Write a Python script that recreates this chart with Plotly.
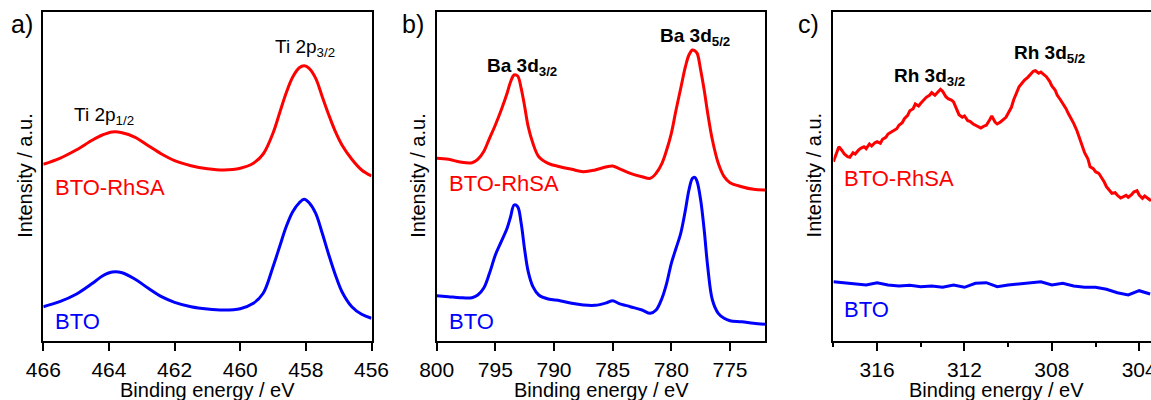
import plotly.graph_objects as go

W, H = 1151, 400

# ---------------- data (intensity in a.u.) ----------------
ti_energy = [466, 465.5, 465, 464.5, 464.2, 463.9, 463.6, 463.2, 462.8, 462.4, 462, 461.5, 461,
             460.5, 460, 459.6, 459.3, 459.0, 458.8, 458.6, 458.4, 458.2, 458.05, 457.9, 457.7,
             457.5, 457.3, 457.1, 456.9, 456.6, 456.3, 456]
ti_rhsa = [176.4, 182.4, 190.7, 200.7, 205.7, 208.7, 208.0, 203.4, 195.0, 186.7, 180.0, 175.0, 172.0,
           170.7, 172.4, 177.4, 186.7, 207.7, 227.7, 247.7, 263.7, 273.0, 275.0, 272.4, 262.4,
           244.0, 225.7, 209.0, 195.7, 181.4, 170.7, 164.7]
ti_bto = [34.0, 39.0, 46.4, 57.4, 64.7, 68.7, 68.0, 61.4, 52.4, 44.0, 38.4, 34.0, 31.7,
          30.7, 32.0, 37.4, 47.4, 74.0, 94.0, 114.0, 129.0, 138.0, 141.5, 138.0, 127.4,
          107.4, 85.7, 65.7, 49.0, 34.0, 26.4, 22.4]

ba_energy = [800, 799, 798, 797, 796.5, 796, 795.5, 795, 794.5, 794, 793.7, 793.4, 793.1, 792.8,
             792.5, 792.2, 791.8, 791.3, 790.5, 789.5, 788.5, 787.5, 786.5, 785.5, 785, 784.5,
             783.5, 782.5, 781.8, 781.3, 780.8, 780.4, 780, 779.6, 779.2, 778.8, 778.5, 778.2,
             778, 777.8, 777.5, 777.2, 776.9, 776.5, 776, 775.5, 775, 774, 773, 772]
ba_rhsa = [182.4, 181.4, 178.7, 178.0, 181.4, 189.0, 202.4, 215.7, 230.7, 247.4, 259.0, 265.7, 264.7,
           252.4, 234.0, 214.0, 197.4, 184.0, 177.4, 174.0, 171.4, 169.0, 170.7, 174.0, 174.7, 172.4,
           167.4, 164.0, 162.4, 167.4, 177.4, 190.7, 207.4, 230.7, 252.4, 274.0, 285.7, 290.7,
           290.0, 287.4, 270.7, 250.7, 227.4, 200.7, 177.4, 164.0, 158.0, 154.0, 151.4, 150.7]
ba_bto = [45.0, 44.0, 43.0, 43.0, 45.7, 52.4, 67.4, 85.7, 99.0, 112.4, 124.0, 135.7, 134.0, 117.4,
          90.7, 69.0, 54.0, 45.7, 41.7, 40.0, 37.4, 35.7, 35.4, 38.0, 40.0, 37.4,
          34.0, 30.7, 27.4, 30.7, 42.4, 57.4, 77.4, 92.4, 107.4, 130.7, 150.7, 162.4,
          163.4, 159.0, 140.7, 110.7, 74.0, 40.7, 27.4, 22.4, 20.0, 19.0, 17.4, 16.4]

rh_energy_rhsa = [318.0, 317.85, 317.75, 317.6, 317.5, 317.35, 317.25, 317.1, 317.0, 316.85, 316.75,
                  316.6, 316.5, 316.35, 316.25, 316.1, 316.0, 315.85, 315.75, 315.6, 315.5,
                  315.35, 315.25, 315.1, 315.0, 314.85, 314.75, 314.6, 314.5, 314.35, 314.25,
                  314.1, 314.0, 313.85, 313.75, 313.6, 313.5, 313.35, 313.25, 313.1, 313.0,
                  312.85, 312.75, 312.6, 312.5, 312.35, 312.25, 312.1, 312.0, 311.85, 311.75,
                  311.6, 311.5, 311.35, 311.25, 311.1, 311.0, 310.85, 310.75, 310.6, 310.5,
                  310.35, 310.25, 310.1, 310.0, 309.85, 309.75, 309.6, 309.5, 309.35, 309.25,
                  309.1, 309.0, 308.85, 308.75, 308.6, 308.5, 308.35, 308.25, 308.1, 308.0,
                  307.85, 307.75, 307.6, 307.5, 307.35, 307.25, 307.1, 307.0, 306.85, 306.75,
                  306.6, 306.5, 306.35, 306.25, 306.1, 306.0, 305.85, 305.75, 305.6, 305.5,
                  305.35, 305.25, 305.1, 305.0, 304.85, 304.75, 304.6, 304.5, 304.35, 304.25,
                  304.1, 304.0, 303.85, 303.75, 303.6, 303.46]
rh_rhsa_px = [485, 455, 440, 452, 462, 470, 472, 458, 462, 450, 445, 440, 446, 432, 438, 428, 425,
              430, 418, 412, 402, 396, 392, 386, 376, 368, 356, 346, 332, 326, 312, 318, 310,
              300, 292, 286, 278, 286, 280, 268, 274, 290, 296, 300, 306, 330, 344, 352, 348,
              362, 364, 372, 376, 380, 384, 378, 376, 360, 348, 366, 372, 366, 360, 352, 340,
              322, 300, 276, 260, 248, 240, 232, 226, 214, 212, 220, 216, 224, 230, 244, 258,
              270, 286, 300, 310, 326, 340, 356, 370, 392, 410, 434, 458, 476, 500, 506, 515,
              520, 530, 546, 560, 572, 580, 578, 586, 594, 590, 586, 592, 584, 576, 572, 585,
              595, 588, 596, 602]
rh_rhsa = [round(340.7 - p / 3, 1) for p in rh_rhsa_px]

rh_energy_bto = [318, 317.5, 317, 316.5, 316, 315.5, 315, 314.5, 314, 313.5, 313, 312.5, 312, 311.5,
                 311, 310.5, 310, 309.5, 309, 308.5, 308, 307.5, 307, 306.5, 306, 305.5, 305,
                 304.5, 304, 303.5]
rh_bto_px = [245, 248, 250, 255, 248, 255, 258, 256, 260, 258, 262, 255, 262, 250, 248, 260, 255,
             252, 248, 245, 255, 250, 258, 262, 262, 268, 278, 285, 272, 282]
rh_bto = [round(140.7 - p / 3, 1) for p in rh_bto_px]

RED = "#ff0000"
BLUE = "#0000ff"
FONT = "Liberation Sans, Arial, sans-serif"


def px(x):
    return x / W


def py(y):
    return 1 - y / H


fig = go.Figure()

panels = [
    ("x", "y", ti_energy, ti_rhsa, ti_energy, ti_bto, "spline"),
    ("x2", "y2", ba_energy, ba_rhsa, ba_energy, ba_bto, "spline"),
    ("x3", "y3", rh_energy_rhsa, rh_rhsa, rh_energy_bto, rh_bto, "linear"),
]
for xa, ya, xr, yr, xb, yb, shp in panels:
    fig.add_trace(go.Scatter(x=xr, y=yr, xaxis=xa, yaxis=ya, mode="lines",
                             line=dict(color=RED, width=3, shape=shp),
                             showlegend=False))
    fig.add_trace(go.Scatter(x=xb, y=yb, xaxis=xa, yaxis=ya, mode="lines",
                             line=dict(color=BLUE, width=3, shape=shp),
                             showlegend=False))

y_dom = [py(340.7), py(11.7)]
common_x = dict(showline=True, linecolor="black", linewidth=1.5, mirror=True,
                ticks="outside", ticklen=9, tickwidth=1.5, tickcolor="black",
                showgrid=False, zeroline=False, automargin=False,
                ticklabeloverflow="allow",
                tickfont=dict(family=FONT, size=21, color="black"))
common_y = dict(showline=True, linecolor="black", linewidth=1.5, automargin=False,
                showticklabels=False, ticks="", showgrid=False, zeroline=False,
                range=[0, 329])

fig.update_layout(
    template="none",
    width=W, height=H, autosize=False,
    margin=dict(l=0, r=0, t=0, b=0, pad=0, autoexpand=False),
    plot_bgcolor="white", paper_bgcolor="white",
    xaxis=dict(common_x, domain=[px(43.3), px(371.5)], range=[466, 456],
               tickmode="array", tickvals=[466, 464, 462, 460, 458, 456], anchor="y"),
    yaxis=dict(common_y, domain=y_dom, mirror=True, anchor="x"),
    xaxis2=dict(common_x, domain=[px(436.7), px(765.2)], range=[800, 772],
                tickmode="array", tickvals=[800, 795, 790, 785, 780, 775], anchor="y2"),
    yaxis2=dict(common_y, domain=y_dom, mirror=True, anchor="x2"),
    xaxis3=dict(common_x, domain=[px(833.4), 1.0], range=[318, 303.46],
                tickmode="linear", tick0=0, dtick=4, anchor="y3",
                minor=dict(dtick=2, tick0=0, ticks="outside", ticklen=5,
                           tickwidth=1.5, tickcolor="black", showgrid=False)),
    yaxis3=dict(common_y, domain=y_dom, mirror=False, anchor="x3"),
)

ann = []


def text(x, y, s, size=20, color="black", xanchor="center", angle=0, bold=False):
    if bold:
        s = "<b>" + s + "</b>"
    ann.append(dict(x=px(x), y=py(y), xref="paper", yref="paper", text=s, showarrow=False,
                    xanchor=xanchor, yanchor="middle", textangle=angle,
                    font=dict(family=FONT, size=size, color=color)))


for lab, x in (("a)", 21.5), ("b)", 413), ("c)", 808.5)):
    text(x, 24, lab, size=25)
for x in (24.8, 417.8, 814.4):
    text(x, 175, "Intensity / a.u.", size=20, angle=-90)
for x in (207.5, 601.5, 996.5):
    text(x, 390, "Binding energy / eV", size=20)

text(53, 187, "BTO-RhSA", size=22, color=RED, xanchor="left")
text(53, 321, "BTO", size=22, color=BLUE, xanchor="left")
text(447, 183, "BTO-RhSA", size=22, color=RED, xanchor="left")
text(447, 321, "BTO", size=22, color=BLUE, xanchor="left")
text(842, 178, "BTO-RhSA", size=22, color=RED, xanchor="left")
text(842, 309, "BTO", size=22, color=BLUE, xanchor="left")

text(104, 116, "Ti 2p<sub>1/2</sub>", size=19)
text(305, 48, "Ti 2p<sub>3/2</sub>", size=19)
text(521.5, 67, "Ba 3d<sub>3/2</sub>", size=19, bold=True)
text(694.5, 37, "Ba 3d<sub>5/2</sub>", size=19, bold=True)
text(929, 77, "Rh 3d<sub>3/2</sub>", size=19, bold=True)
text(1049.5, 54, "Rh 3d<sub>5/2</sub>", size=19, bold=True)

fig.update_layout(annotations=ann)
fig.write_html("out.html")
